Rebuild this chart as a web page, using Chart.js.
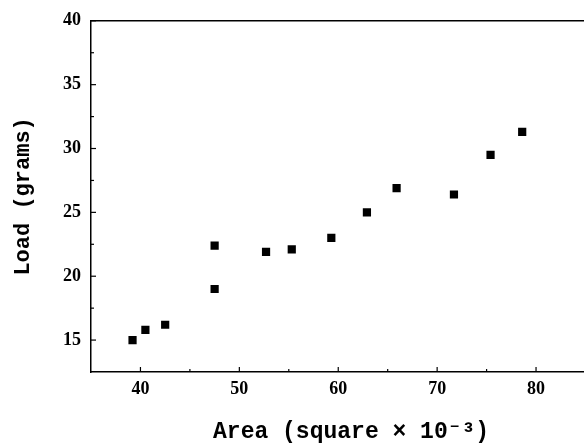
<!DOCTYPE html>
<html>
<head>
<meta charset="utf-8">
<script src="https://cdn.jsdelivr.net/npm/chart.js@4/dist/chart.umd.min.js"></script>
<style>
  html, body { margin: 0; padding: 0; background: #fff; overflow: hidden; }
  #wrap { width: 617px; height: 443px; }
</style>
</head>
<body>
<div id="wrap"><canvas id="loadChart" width="617" height="443"></canvas></div>
<script>
// measured points: area (x 10^-3) vs load (grams)
const areaValues = [39.2, 40.5, 42.5, 47.5, 47.5, 52.7, 55.3, 59.3, 62.9, 65.9, 71.7, 75.4, 78.6];
const loadValues = [15.0, 15.8, 16.2, 19.0, 22.4, 21.9, 22.1, 23.0, 25.0, 26.9, 26.4, 29.5, 31.3];

const xTickValues = [40, 50, 60, 70, 80];
const yTickValues = [15, 20, 25, 30, 35, 40];
const xMinorTicks = [45, 55, 65, 75, 85];
const yMinorTicks = [17.5, 22.5, 27.5, 32.5, 37.5];

const points = areaValues.map((a, i) => ({ x: a, y: loadValues[i] }));

// inward tick marks + top frame line
const frameTicks = {
    id: 'frameTicks',
    afterDraw(chart) {
        const { ctx, chartArea, scales } = chart;
        ctx.save();
        ctx.strokeStyle = '#000';
        ctx.lineWidth = 1.5;
        ctx.beginPath();
        ctx.moveTo(chartArea.left, chartArea.top);
        ctx.lineTo(chartArea.right, chartArea.top);
        ctx.stroke();

        ctx.lineWidth = 1.2;
        const yTick = (v, len) => {
            const py = scales.y.getPixelForValue(v);
            ctx.beginPath();
            ctx.moveTo(chartArea.left, py);
            ctx.lineTo(chartArea.left + len, py);
            ctx.stroke();
        };
        const xTick = (v, len) => {
            const px = scales.x.getPixelForValue(v);
            ctx.beginPath();
            ctx.moveTo(px, chartArea.bottom);
            ctx.lineTo(px, chartArea.bottom - len);
            ctx.stroke();
        };
        yTickValues.forEach(v => yTick(v, 5));
        yMinorTicks.forEach(v => yTick(v, 3));
        xTickValues.forEach(v => xTick(v, 5));
        xMinorTicks.forEach(v => xTick(v, 3));
        ctx.restore();
    }
};

const tickFont = { family: '"Liberation Serif", serif', size: 18, weight: 'bold' };

new Chart(document.getElementById('loadChart').getContext('2d'), {
    type: 'scatter',
    data: {
        datasets: [{
            label: 'Load',
            data: points,
            pointStyle: 'rect',
            pointRadius: 5.8,
            pointHoverRadius: 5.8,
            backgroundColor: '#000',
            borderColor: '#000',
            borderWidth: 0
        }]
    },
    options: {
        responsive: false,
        animation: false,
        layout: { padding: { top: 20, left: 0, right: 0, bottom: 0 } },
        plugins: {
            legend: { display: false },
            tooltip: { enabled: false }
        },
        scales: {
            x: {
                type: 'linear',
                min: 35,
                max: 87.6,
                afterBuildTicks: scale => { scale.ticks = xTickValues.map(v => ({ value: v })); },
                afterFit: scale => { scale.height = 71; },
                grid: { display: false, drawTicks: false },
                border: { display: true, color: '#000', width: 1.5 },
                ticks: { color: '#000', font: tickFont, padding: 7, maxRotation: 0 },
                title: {
                    display: true,
                    text: 'Area (square × 10⁻³)',
                    color: '#000',
                    font: { family: '"Liberation Mono", monospace', size: 23, weight: 'bold', lineHeight: 0.9 },
                    padding: 0
                }
            },
            y: {
                type: 'linear',
                min: 12.5,
                max: 40,
                afterBuildTicks: scale => { scale.ticks = yTickValues.map(v => ({ value: v })); },
                afterFit: scale => { scale.width = 91; },
                grid: { display: false, drawTicks: false },
                border: { display: true, color: '#000', width: 1.5 },
                ticks: { color: '#000', font: tickFont, padding: 10 },
                title: {
                    display: true,
                    text: 'Load (grams)',
                    color: '#000',
                    font: { family: '"Liberation Mono", monospace', size: 22, weight: 'bold' },
                    padding: { top: 10, bottom: 0 }
                }
            }
        }
    },
    plugins: [frameTicks]
});
</script>
</body>
</html>
